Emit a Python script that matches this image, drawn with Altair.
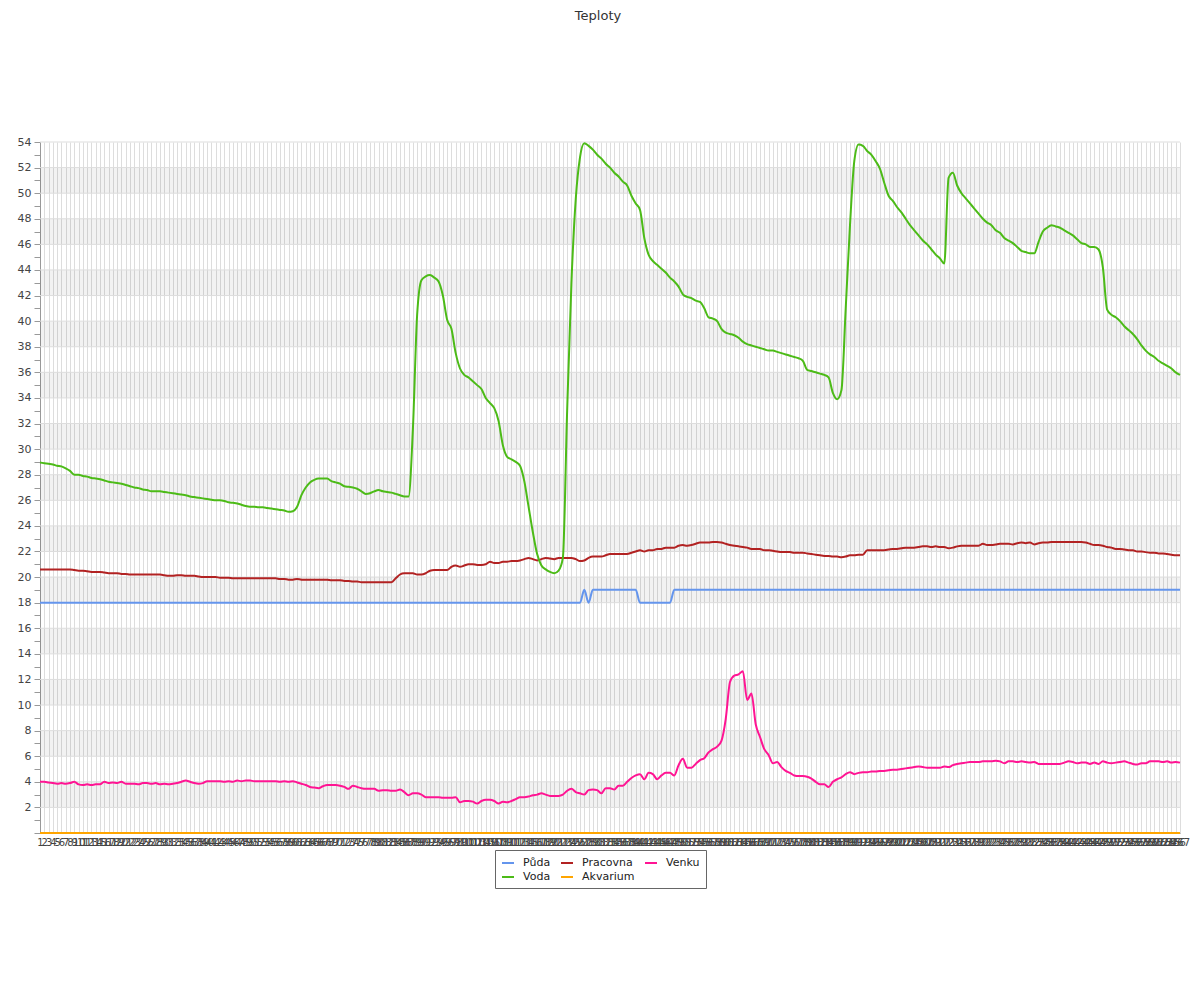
import altair as alt
import pandas as pd

# ---------------- data ----------------
labels = list(range(1, 268))

puda = [18] * 127 + [19, 18] + [19] * 11 + [18] * 8 + [19] * 119

voda = [
    28.95, 28.9, 28.85, 28.8, 28.7, 28.65, 28.5, 28.3, 28.0, 28.0,
    27.9, 27.85, 27.75, 27.7, 27.65, 27.55, 27.45, 27.4, 27.35, 27.3,
    27.2, 27.1, 27.0, 26.95, 26.85, 26.8, 26.7, 26.7, 26.7, 26.65,
    26.6, 26.55, 26.5, 26.45, 26.4, 26.3, 26.25, 26.2, 26.15, 26.1,
    26.05, 26.0, 26.0, 25.95, 25.85, 25.8, 25.75, 25.65, 25.55, 25.5,
    25.5, 25.45, 25.45, 25.4, 25.35, 25.3, 25.25, 25.2, 25.1, 25.15,
    25.5, 26.4, 27.0, 27.4, 27.6, 27.7, 27.7, 27.7, 27.5, 27.4,
    27.3, 27.1, 27.05, 27.0, 26.9, 26.7, 26.5, 26.55, 26.7, 26.8,
    26.7, 26.65, 26.6, 26.5, 26.4, 26.3, 26.3, 31.5, 40.5, 43.2,
    43.5, 43.6, 43.4, 43.1, 42.0, 40.1, 39.4, 37.5, 36.3, 35.8,
    35.6, 35.3, 35.0, 34.7, 34.0, 33.6, 33.2, 32.2, 30.3, 29.4,
    29.2, 29.0, 28.7, 27.5, 25.5, 23.5, 21.8, 20.9, 20.6, 20.4,
    20.3, 20.5, 21.5, 33.0, 43.0, 49.5, 52.8, 53.9, 53.7, 53.4,
    53.0, 52.7, 52.3, 52.0, 51.6, 51.3, 50.9, 50.6, 49.8, 49.2,
    48.7, 46.5, 45.2, 44.7, 44.4, 44.1, 43.8, 43.4, 43.1, 42.7,
    42.1, 41.9, 41.8, 41.6, 41.5, 41.0, 40.3, 40.2, 40.0, 39.4,
    39.1, 39.0, 38.9, 38.7, 38.4, 38.2, 38.1, 38.0, 37.9, 37.8,
    37.7, 37.7, 37.6, 37.5, 37.4, 37.3, 37.2, 37.1, 36.9, 36.2,
    36.1, 36.0, 35.9, 35.8, 35.6, 34.4, 33.9, 34.6, 41.0, 47.5,
    52.5, 53.8, 53.7, 53.3, 53.0, 52.5, 51.9, 50.8, 49.8, 49.4,
    48.9, 48.5, 48.0, 47.5, 47.1, 46.7, 46.3, 46.0, 45.6, 45.2,
    44.9, 44.5, 51.2, 51.6, 50.6, 50.0, 49.6, 49.2, 48.8, 48.4,
    48.0, 47.7, 47.5, 47.1, 46.9, 46.5, 46.3, 46.1, 45.8, 45.5,
    45.4, 45.3, 45.3, 46.2, 47.0, 47.3, 47.5, 47.4, 47.3, 47.1,
    46.9, 46.7, 46.4, 46.1, 46.0, 45.8, 45.8, 45.6, 44.2, 40.9,
    40.5, 40.3, 40.0, 39.6, 39.3, 39.0, 38.6, 38.1, 37.7, 37.4,
    37.2, 36.9, 36.7, 36.5, 36.3, 36.0, 35.8,
]

pracovna = [
    20.6, 20.6, 20.6, 20.6, 20.6, 20.6, 20.6, 20.6, 20.55, 20.5,
    20.5, 20.45, 20.4, 20.4, 20.4, 20.35, 20.3, 20.3, 20.3, 20.25,
    20.25, 20.2, 20.2, 20.2, 20.2, 20.2, 20.2, 20.2, 20.2, 20.15,
    20.1, 20.1, 20.15, 20.15, 20.1, 20.1, 20.1, 20.05, 20.0, 20.0,
    20.0, 20.0, 19.95, 19.95, 19.95, 19.9, 19.9, 19.9, 19.9, 19.9,
    19.9, 19.9, 19.9, 19.9, 19.9, 19.9, 19.85, 19.85, 19.8, 19.8,
    19.85, 19.8, 19.8, 19.8, 19.8, 19.8, 19.8, 19.8, 19.75, 19.75,
    19.75, 19.7, 19.7, 19.65, 19.65, 19.6, 19.6, 19.6, 19.6, 19.6,
    19.6, 19.6, 19.6, 19.9, 20.2, 20.3, 20.3, 20.3, 20.2, 20.2,
    20.3, 20.5, 20.55, 20.55, 20.55, 20.55, 20.8, 20.9, 20.8, 20.9,
    21.0, 21.0, 20.95, 20.95, 21.0, 21.2, 21.1, 21.1, 21.2, 21.2,
    21.25, 21.25, 21.3, 21.4, 21.5, 21.4, 21.3, 21.4, 21.5, 21.45,
    21.4, 21.5, 21.5, 21.5, 21.5, 21.4, 21.25, 21.3, 21.5, 21.6,
    21.6, 21.6, 21.7, 21.8, 21.8, 21.8, 21.8, 21.8, 21.9, 22.0,
    22.1, 22.0, 22.1, 22.1, 22.2, 22.2, 22.3, 22.3, 22.3, 22.45,
    22.5, 22.45, 22.5, 22.6, 22.7, 22.7, 22.7, 22.75, 22.75, 22.7,
    22.6, 22.5, 22.45, 22.4, 22.35, 22.3, 22.2, 22.2, 22.2, 22.1,
    22.1, 22.05, 22.0, 21.95, 21.95, 21.95, 21.9, 21.9, 21.9, 21.85,
    21.8, 21.75, 21.7, 21.65, 21.65, 21.6, 21.6, 21.55, 21.6, 21.7,
    21.7, 21.75, 21.75, 22.1, 22.1, 22.1, 22.1, 22.1, 22.15, 22.2,
    22.2, 22.25, 22.3, 22.3, 22.3, 22.35, 22.4, 22.4, 22.35, 22.4,
    22.35, 22.35, 22.25, 22.3, 22.4, 22.45, 22.45, 22.45, 22.45, 22.45,
    22.6, 22.5, 22.5, 22.55, 22.6, 22.6, 22.6, 22.55, 22.65, 22.7,
    22.65, 22.7, 22.55, 22.65, 22.7, 22.7, 22.75, 22.75, 22.75, 22.75,
    22.75, 22.75, 22.75, 22.75, 22.7, 22.6, 22.5, 22.5, 22.45, 22.35,
    22.3, 22.2, 22.2, 22.15, 22.1, 22.1, 22.0, 22.0, 21.95, 21.9,
    21.9, 21.85, 21.85, 21.8, 21.75, 21.7, 21.7,
]

venku = [
    4.0, 4.0, 3.95, 3.9, 3.85, 3.9, 3.85, 3.9, 4.0, 3.8,
    3.75, 3.8, 3.75, 3.8, 3.8, 4.0, 3.9, 3.95, 3.9, 4.0,
    3.85, 3.85, 3.85, 3.8, 3.9, 3.9, 3.85, 3.9, 3.8, 3.85,
    3.8, 3.85, 3.9, 4.0, 4.1, 4.0, 3.9, 3.85, 3.9, 4.05,
    4.05, 4.05, 4.05, 4.0, 4.05, 4.0, 4.1, 4.05, 4.1, 4.1,
    4.05, 4.05, 4.05, 4.05, 4.05, 4.05, 4.0, 4.05, 4.0, 4.05,
    3.95, 3.85, 3.75, 3.6, 3.55, 3.5, 3.65, 3.75, 3.75, 3.75,
    3.7, 3.6, 3.45, 3.7, 3.6, 3.5, 3.45, 3.45, 3.45, 3.3,
    3.35, 3.35, 3.3, 3.3, 3.4, 3.2, 2.95, 3.1, 3.1, 3.0,
    2.8, 2.8, 2.8, 2.8, 2.75, 2.75, 2.75, 2.8, 2.4, 2.5,
    2.5, 2.45, 2.3, 2.5, 2.6, 2.6, 2.5, 2.3, 2.45, 2.4,
    2.5, 2.65, 2.8, 2.8, 2.85, 2.95, 3.0, 3.1, 3.0, 2.9,
    2.9, 2.9, 3.0, 3.3, 3.45, 3.2, 3.1, 3.0, 3.35, 3.4,
    3.35, 3.1, 3.5, 3.5, 3.4, 3.7, 3.7, 4.0, 4.3, 4.5,
    4.6, 4.2, 4.7, 4.6, 4.2, 4.5, 4.7, 4.7, 4.5, 5.3,
    5.8, 5.1, 5.1, 5.4, 5.7, 5.85, 6.3, 6.55, 6.75, 7.2,
    8.9, 11.8, 12.3, 12.4, 12.65, 10.4, 10.9, 8.5, 7.5, 6.55,
    6.1, 5.45, 5.55, 5.15, 4.85, 4.7, 4.5, 4.45, 4.45, 4.4,
    4.25, 4.0, 3.8, 3.8, 3.6, 4.0, 4.2, 4.35, 4.6, 4.75,
    4.6, 4.7, 4.75, 4.75, 4.8, 4.8, 4.85, 4.85, 4.9, 4.95,
    4.95, 5.0, 5.05, 5.1, 5.15, 5.2, 5.15, 5.1, 5.1, 5.1,
    5.1, 5.2, 5.15, 5.3, 5.4, 5.45, 5.5, 5.55, 5.55, 5.55,
    5.6, 5.6, 5.6, 5.65, 5.6, 5.45, 5.6, 5.6, 5.55, 5.6,
    5.55, 5.5, 5.55, 5.4, 5.4, 5.4, 5.4, 5.4, 5.4, 5.5,
    5.6, 5.55, 5.45, 5.5, 5.5, 5.4, 5.5, 5.4, 5.6, 5.5,
    5.45, 5.5, 5.55, 5.6, 5.5, 5.4, 5.35, 5.45, 5.45, 5.6,
    5.6, 5.6, 5.55, 5.6, 5.5, 5.55, 5.5,
]

akvarium = [0] * 267

series_names = ["Půda", "Pracovna", "Venku", "Voda", "Akvarium"]
series_colors = ["#6495ED", "#B22222", "#FF1493", "#4CBB17", "#FFA500"]
series_values = [puda, pracovna, venku, voda, akvarium]

band_lo = [2, 6, 10, 14, 18, 22, 26, 30, 34, 38, 42, 46, 50]
grid_vals = list(range(2, 55, 2))
y_tick_vals = list(range(0, 55))

# ---------------- tables ----------------
rows = []
for name, vals in zip(series_names, series_values):
    for lab, v in zip(labels, vals):
        rows.append({"den": lab, "serie": name, "teplota": v})
df = pd.DataFrame(rows)
bands = pd.DataFrame({"teplota": band_lo, "hi": [b + 2 for b in band_lo]})
grid = pd.DataFrame({"teplota": grid_vals})

W, H = 1140, 691
yscale = alt.Scale(domain=[0, 54], nice=False, zero=True)
yaxis = alt.Axis(title=None, values=y_tick_vals,
                 labelExpr="datum.value % 2 === 0 && datum.value > 0 ? datum.label : ''",
                 labelOverlap=False, grid=False, tickSize=6,
                 tickColor="#999999", domainColor="#999999",
                 labelFontSize=11, labelColor="#444444", labelPadding=3)

band_layer = alt.Chart(bands).mark_rect(color="#000000", opacity=0.05).encode(
    x=alt.value(0), x2=alt.value(W),
    y=alt.Y("teplota:Q", scale=yscale, axis=yaxis), y2="hi:Q",
)

grid_layer = alt.Chart(grid).mark_rule(color="#dddddd", strokeWidth=1).encode(
    x=alt.value(0), x2=alt.value(W),
    y=alt.Y("teplota:Q", scale=yscale, axis=yaxis),
)

line_layer = alt.Chart(df).mark_line(strokeWidth=2, interpolate="monotone").encode(
    x=alt.X("den:O", scale=alt.Scale(type="point", padding=0),
            axis=alt.Axis(title=None, labelAngle=0, labelFontSize=10,
                          labelColor="#444444", labelOverlap=False,
                          ticks=False, labelPadding=4, grid=True,
                          gridColor="#dddddd", domainColor="#999999")),
    y=alt.Y("teplota:Q", scale=yscale, axis=yaxis),
    color=alt.Color("serie:N",
                    scale=alt.Scale(domain=series_names, range=series_colors),
                    legend=alt.Legend(title=None, orient="none", legendX=455, legendY=708,
                                      columns=3, direction="horizontal",
                                      symbolType="stroke", symbolStrokeWidth=2,
                                      symbolSize=144, labelFontSize=11,
                                      labelColor="#222222", labelOffset=8,
                                      columnPadding=6, rowPadding=2,
                                      padding=6, strokeColor="#666666",
                                      fillColor="#ffffff")),
    detail="serie:N",
)

chart = alt.layer(band_layer, grid_layer, line_layer).properties(
    width=W, height=H,
    title=alt.TitleParams("Teploty", fontSize=13, fontWeight="normal",
                          color="#333333", offset=113, anchor="middle", dx=-12),
    autosize=alt.AutoSizeParams(type="none"),
    padding={"left": 32, "top": 134, "right": 12, "bottom": 70},
).configure(font="DejaVu Sans").configure_view(stroke=None)

chart.save("out.html", embed_options={"renderer": "svg", "actions": False})
